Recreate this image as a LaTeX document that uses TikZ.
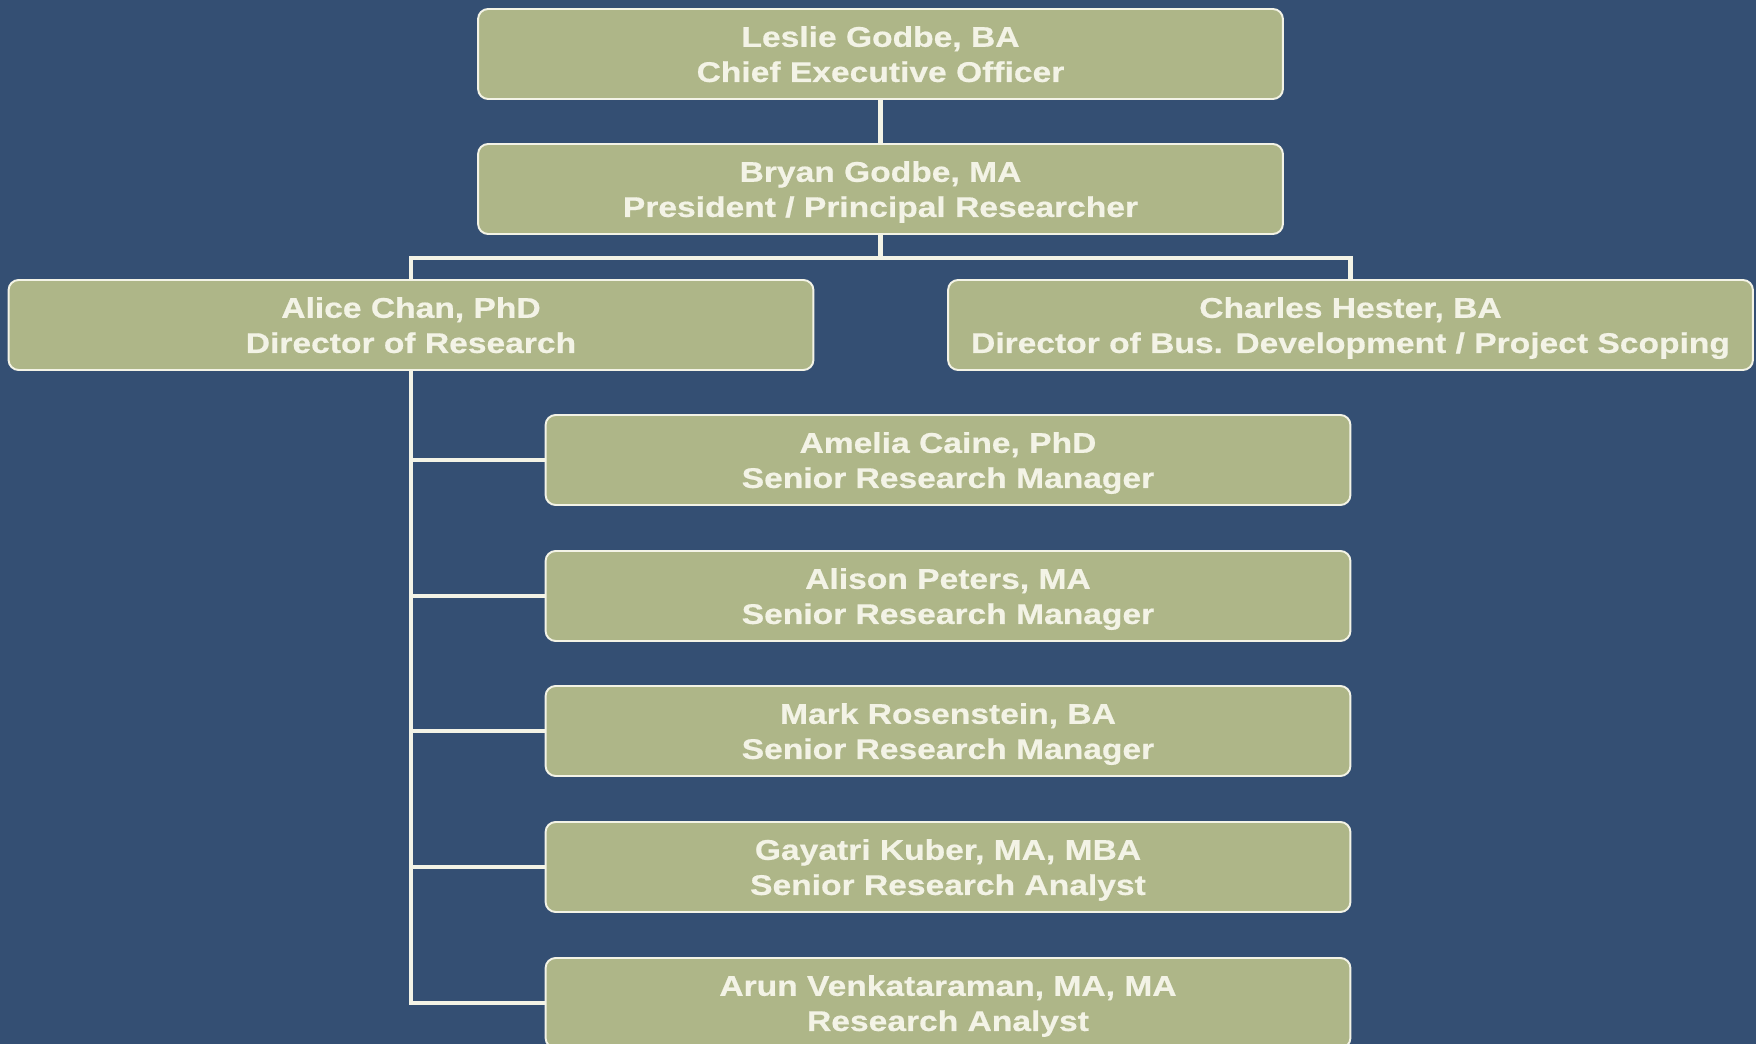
\documentclass[tikz,border=0pt]{standalone}
\usepackage{fontspec}
\setmainfont{Liberation Sans}
\newfontfamily\chartfont{Liberation Sans Bold}[FakeStretch=1.18, FakeBold=0.6]
\definecolor{chartBlue}{RGB}{52,79,115}
\definecolor{boxSage}{RGB}{174,182,136}
\definecolor{lineCream}{RGB}{243,243,230}

\begin{document}
\begin{tikzpicture}[x=0.02cm, y=-0.02cm,
personnode/.style={rectangle, rounded corners=0.2cm, draw=lineCream, fill=boxSage, line width=1.1pt, minimum width=16.1cm, minimum height=1.8cm, inner sep=0pt, align=center, text=lineCream, font=\chartfont\fontsize{16.2}{20}\selectfont, text height=33.8pt, text depth=2pt},
reportline/.style={draw=lineCream, line width=2.6pt}]

\useasboundingbox (0,0) rectangle (1756,1044);
\fill[chartBlue] (0,0) rectangle (1756,1044);

\node[personnode](ceo) at (880.5, 54){Leslie Godbe, BA\\Chief Executive Officer};
\node[personnode](president) at (880.5, 189){Bryan Godbe, MA\\President / Principal Researcher};

\node[personnode](dirResearch) at (411, 325){Alice Chan, PhD\\Director of Research};
\node[personnode](dirBusDev) at (1350.5, 325){Charles Hester, BA\\Director of Bus. Development / Project Scoping};

\coordinate (split) at (880.5, 258);
\draw[reportline](ceo.south) -- (president.north);
\draw[reportline](president.south) -- (split);
\draw[reportline](dirResearch.north) |- (split) -| (dirBusDev.north);

\node[personnode](srManager1) at (948, 460){Amelia Caine, PhD\\Senior Research Manager};
\node[personnode](srManager2) at (948, 596){Alison Peters, MA\\Senior Research Manager};
\node[personnode](srManager3) at (948, 731){Mark Rosenstein, BA\\Senior Research Manager};
\node[personnode](srAnalyst) at (948, 867){Gayatri Kuber, MA, MBA\\Senior Research Analyst};
\node[personnode](analyst) at (948, 1003){Arun Venkataraman, MA, MA\\Research Analyst};

\draw[reportline](dirResearch.south) |- (analyst.west);
\draw[reportline](dirResearch.south |- srManager1.west) -- (srManager1.west);
\draw[reportline](dirResearch.south |- srManager2.west) -- (srManager2.west);
\draw[reportline](dirResearch.south |- srManager3.west) -- (srManager3.west);
\draw[reportline](dirResearch.south |- srAnalyst.west) -- (srAnalyst.west);

\end{tikzpicture}
\end{document}
